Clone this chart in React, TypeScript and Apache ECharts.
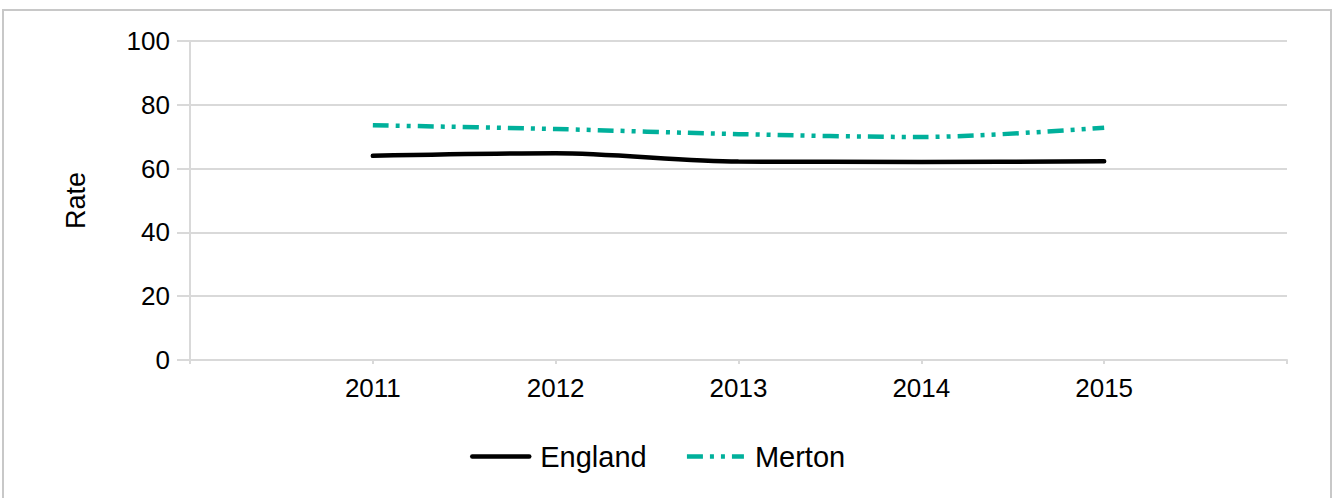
import React, { useEffect, useRef } from "react";
import * as echarts from "echarts";

const categories = ["", "2011", "2012", "2013", "2014", "2015", ""];
const england = [null, 64.0, 64.8, 62.2, 62.1, 62.3, null];
const merton = [null, 73.6, 72.4, 70.8, 69.9, 72.8, null];
const yTicks = { min: 0, max: 100, interval: 20 };

const FONT = "Liberation Sans, Arial, sans-serif";
const GRID = "#d9d9d9";

export default function App() {
  const ref = useRef<HTMLDivElement>(null);
  useEffect(() => {
    document.body.style.margin = "0";
    const chart = echarts.init(ref.current!, undefined, { renderer: "svg" });
    chart.setOption({
      animation: false,
      textStyle: { fontFamily: FONT },
      grid: { left: 190, right: 46, top: 41, bottom: 138 },
      graphic: [
        {
          type: "rect",
          shape: { x: 3, y: 10, width: 1328, height: 500 },
          style: { fill: "none", stroke: "#c8c8c8", lineWidth: 2 },
          silent: true,
        },
      ],
      legend: {
        left: 470,
        top: 442,
        padding: 0,
        itemWidth: 57,
        itemHeight: 14,
        itemGap: 38,
        itemStyle: { opacity: 0 },
        lineStyle: { width: 4.5 },
        textStyle: { fontSize: 29, color: "#000", fontFamily: FONT, padding: [0, 0, 0, 6] },
        data: ["England", "Merton"],
      },
      xAxis: {
        type: "category",
        data: categories,
        boundaryGap: false,
        axisLine: { lineStyle: { color: GRID, width: 2 } },
        axisTick: { alignWithLabel: true, length: 4, lineStyle: { color: GRID, width: 2 } },
        axisLabel: { color: "#000", fontSize: 26, margin: 15, fontFamily: FONT, interval: 0 },
        splitLine: { show: false },
      },
      yAxis: {
        type: "value",
        min: yTicks.min,
        max: yTicks.max,
        interval: yTicks.interval,
        name: "Rate",
        nameLocation: "middle",
        nameGap: 101,
        nameRotate: 90,
        nameTextStyle: { color: "#000", fontSize: 27, fontFamily: FONT },
        axisLine: { show: true, lineStyle: { color: GRID, width: 2 } },
        axisTick: { show: true, length: 13, lineStyle: { color: GRID, width: 2 } },
        axisLabel: { color: "#000", fontSize: 26, margin: 20, fontFamily: FONT },
        splitLine: { lineStyle: { color: GRID, width: 2 } },
      },
      series: [
        {
          name: "England",
          type: "line",
          data: england,
          showSymbol: false,
          symbol: "none",
          smooth: 0.3,
          itemStyle: { color: "#000" },
          lineStyle: { color: "#000", width: 4.5, cap: "round" },
        },
        {
          name: "Merton",
          type: "line",
          data: merton,
          showSymbol: false,
          symbol: "none",
          smooth: 0.3,
          itemStyle: { color: "#00b09b" },
          lineStyle: { color: "#00b09b", width: 4.5, type: [16, 7, 4, 7, 4, 7], cap: "butt" },
        },
      ],
    });
    return () => chart.dispose();
  }, []);
  return <div ref={ref} style={{ width: 1333, height: 498 }} />;
}
